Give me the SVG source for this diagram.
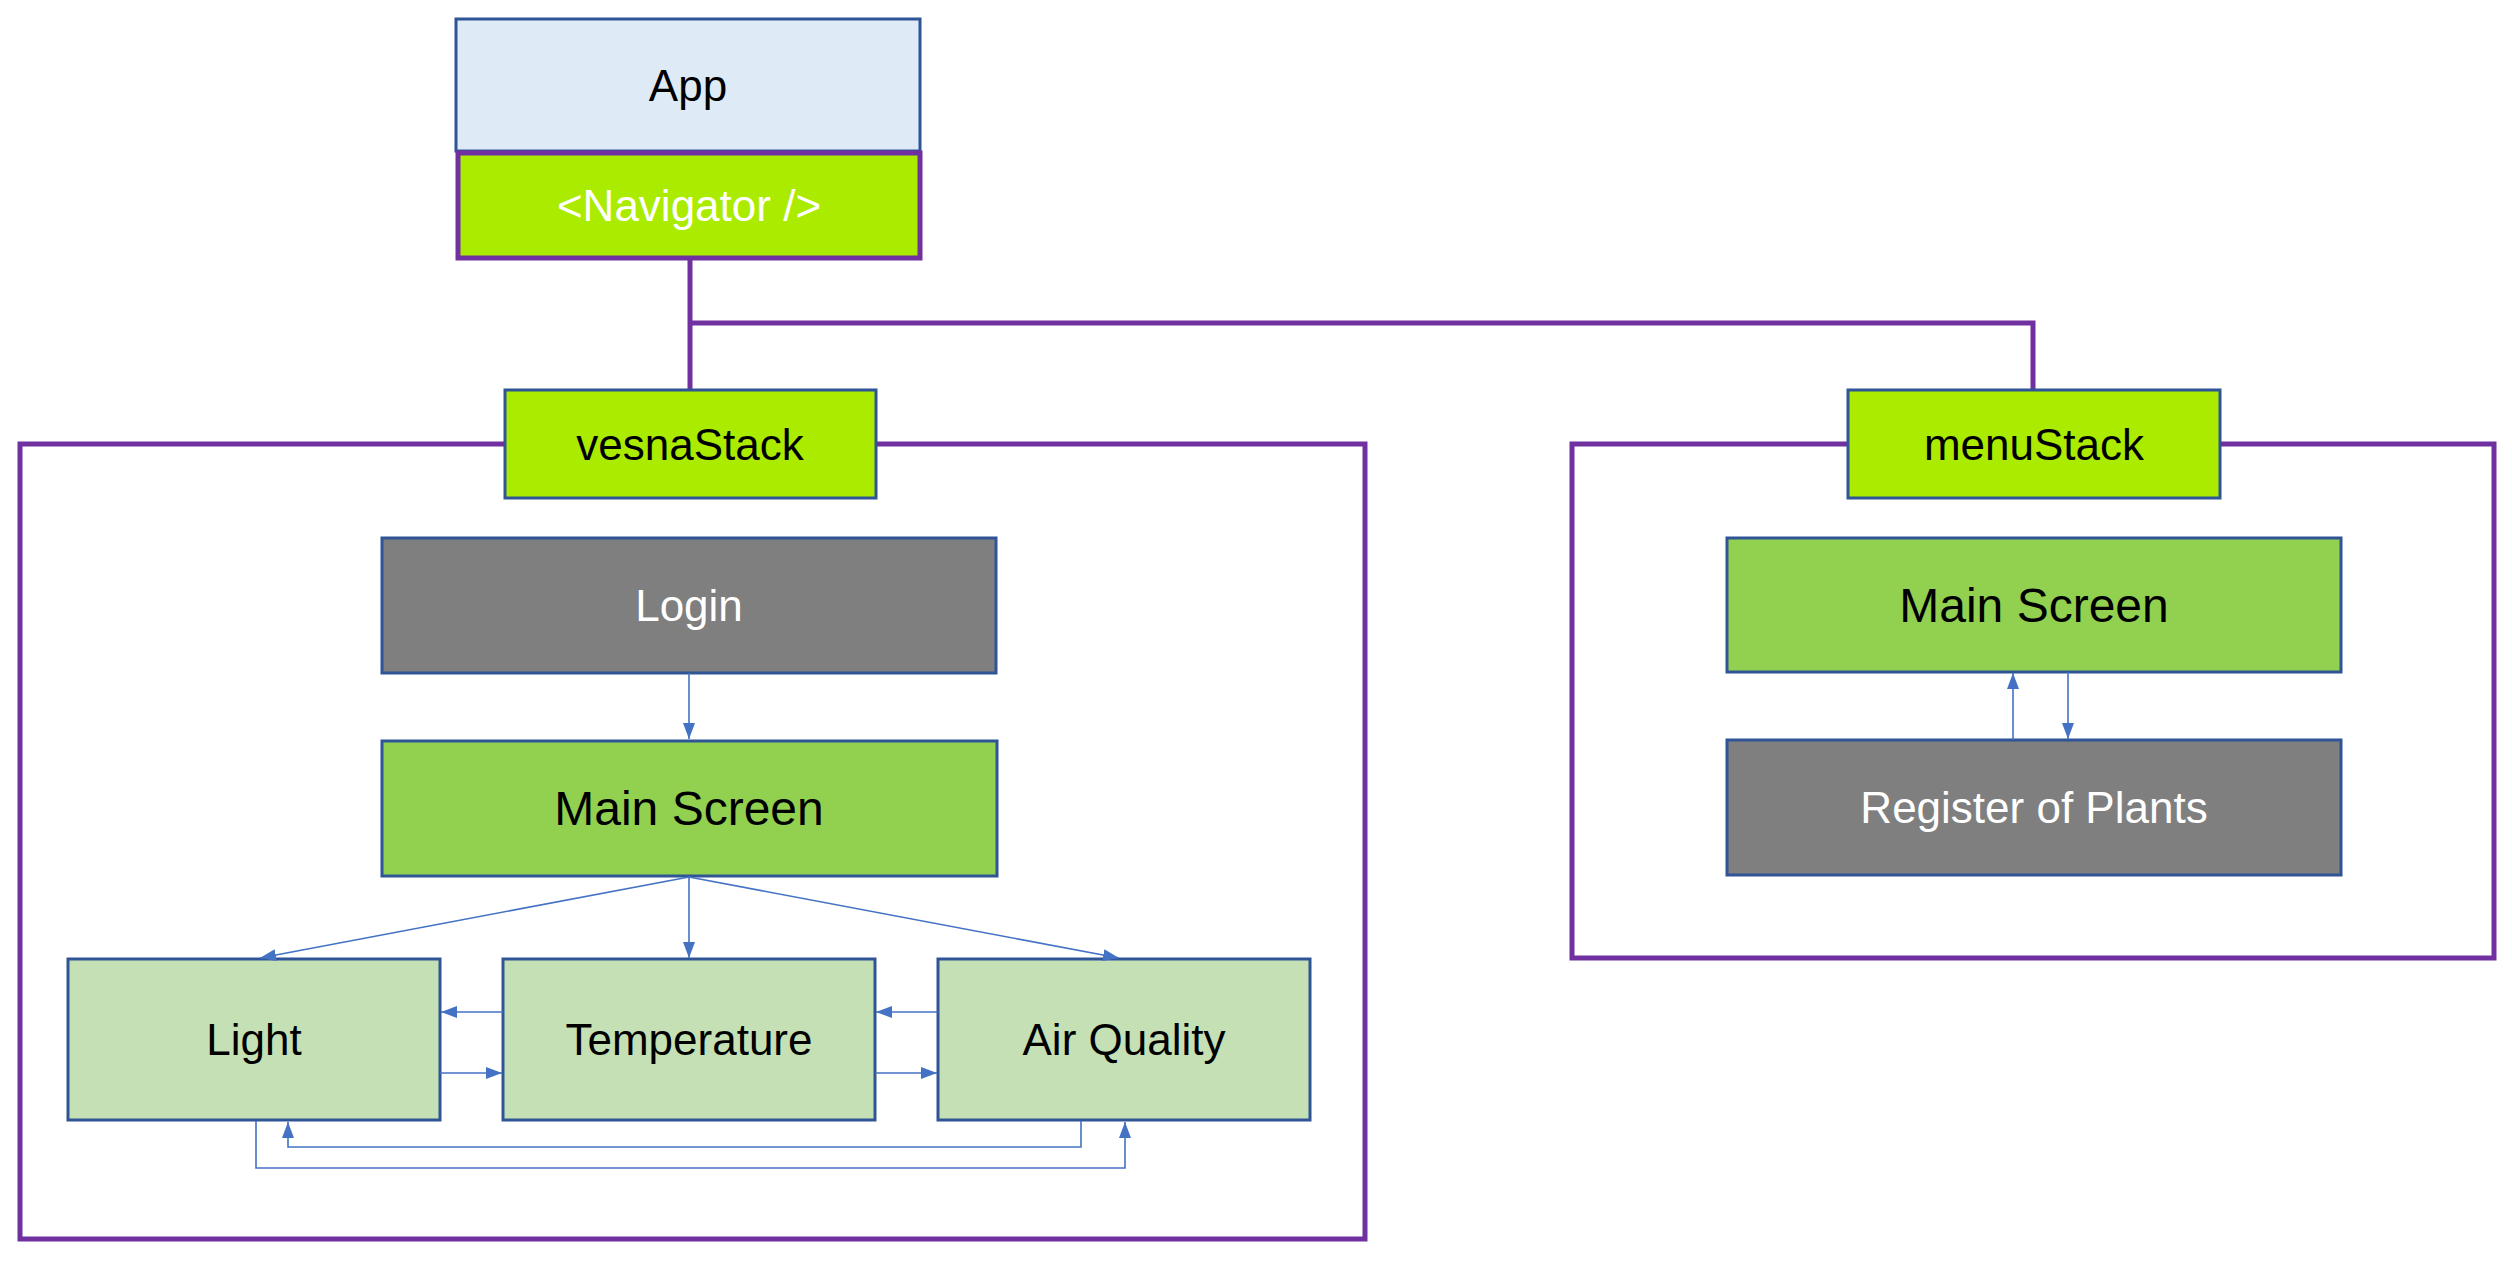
<svg xmlns="http://www.w3.org/2000/svg" width="2512" height="1274" viewBox="0 0 2512 1274">
<defs>
<marker id="ah" viewBox="0 0 16 12" refX="16" refY="6" markerWidth="16" markerHeight="12" markerUnits="userSpaceOnUse" orient="auto">
<path d="M0,0 L16,6 L0,12 z" fill="#4472C4"/>
</marker>
<style>
.t{font-family:"Liberation Sans",Arial,sans-serif;font-size:44px;text-anchor:middle;fill:#000}
.w{fill:#fff}
.big{font-size:48px}
.frame{fill:none;stroke:#7030A0;stroke-width:5}
.pl{fill:none;stroke:#7030A0;stroke-width:5}
.box{stroke:#2F5597;stroke-width:3}
.con{fill:none;stroke:#4472C4;stroke-width:1.6}
.arr{marker-end:url(#ah)}
</style>
</defs>
<rect width="2512" height="1274" fill="#fff"/>
<g id="frames">
<rect class="frame" x="20" y="444" width="1345" height="795"/>
<rect class="frame" x="1572" y="444" width="922" height="514"/>
</g>
<g id="nav-lines">
<polyline class="pl" points="690,259 690,390"/>
<polyline class="pl" points="690,323 2033,323 2033,390"/>
</g>
<g id="app"><rect class="box" x="456" y="19" width="464" height="132" fill="#DEEBF7"/><text class="t" x="688" y="101">App</text></g>
<g id="navigator"><rect x="458" y="153" width="462" height="105" fill="#AAEB00" stroke="#7030A0" stroke-width="5"/><text class="t w" x="689" y="221">&lt;Navigator /&gt;</text></g>
<g id="vesnaStack"><rect class="box" x="505" y="390" width="371" height="108" fill="#AAEB00"/><text class="t" x="690" y="460">vesnaStack</text></g>
<g id="menuStack"><rect class="box" x="1848" y="390" width="372" height="108" fill="#AAEB00"/><text class="t" x="2034" y="460">menuStack</text></g>
<g id="login"><rect class="box" x="382" y="538" width="614" height="135" fill="#7F7F7F"/><text class="t w" x="689" y="621">Login</text></g>
<g id="main1"><rect class="box" x="382" y="741" width="615" height="135" fill="#92D050"/><text class="t big" x="689" y="825">Main Screen</text></g>
<g id="light"><rect class="box" x="68" y="959" width="372" height="161" fill="#C5E0B4"/><text class="t" x="254" y="1055">Light</text></g>
<g id="temperature"><rect class="box" x="503" y="959" width="372" height="161" fill="#C5E0B4"/><text class="t" x="689" y="1055">Temperature</text></g>
<g id="airquality"><rect class="box" x="938" y="959" width="372" height="161" fill="#C5E0B4"/><text class="t" x="1124" y="1055">Air Quality</text></g>
<g id="main2"><rect class="box" x="1727" y="538" width="614" height="134" fill="#92D050"/><text class="t big" x="2034" y="622">Main Screen</text></g>
<g id="register"><rect class="box" x="1727" y="740" width="614" height="135" fill="#7F7F7F"/><text class="t w" x="2034" y="823">Register of Plants</text></g>
<g id="connectors">
<line class="con arr" x1="689" y1="673" x2="689" y2="739"/>
<line class="con arr" x1="689" y1="877" x2="260" y2="958"/>
<line class="con arr" x1="689" y1="877" x2="689" y2="958"/>
<line class="con arr" x1="689" y1="877" x2="1119" y2="958"/>
<line class="con arr" x1="503" y1="1012" x2="441" y2="1012"/>
<line class="con arr" x1="440" y1="1073" x2="502" y2="1073"/>
<line class="con arr" x1="938" y1="1012" x2="876" y2="1012"/>
<line class="con arr" x1="875" y1="1073" x2="937" y2="1073"/>
<polyline class="con arr" points="1081,1121 1081,1147 288,1147 288,1122"/>
<polyline class="con arr" points="256,1121 256,1168 1125,1168 1125,1122"/>
<line class="con arr" x1="2013" y1="740" x2="2013" y2="673"/>
<line class="con arr" x1="2068" y1="672" x2="2068" y2="739"/>
</g>
</svg>
